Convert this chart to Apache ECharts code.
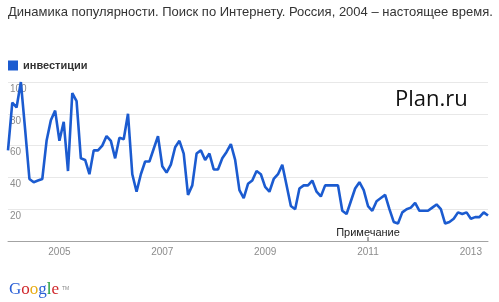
<!DOCTYPE html>
<html>
<head>
<meta charset="utf-8">
<script src="https://cdn.jsdelivr.net/npm/echarts@6/dist/echarts.min.js"></script>
<style>
html,body{margin:0;padding:0;background:#fff;}
#chart{width:499px;height:302px;}
</style>
</head>
<body>
<div id="chart"></div>
<script>
// ---- data (monthly, Jan 2004 .. May 2013) ----
var startYear = 2004;
var seriesName = 'инвестиции';
var values = [
  57, 87, 84, 100, 70, 39, 37, 38, 39, 63, 76, 82,      // 2004
  63, 75, 44, 93, 88, 52, 51, 42, 57, 57, 60, 66,       // 2005
  63, 52, 65, 64, 80, 42, 31, 42, 50, 50, 58, 66,       // 2006
  47, 43, 48, 59, 63, 55, 29, 35, 55, 57, 51, 55,       // 2007
  45, 45, 52, 56, 61, 51, 32, 27, 36, 38, 44, 42,       // 2008
  34, 31, 39, 42, 48, 35, 22, 20, 33, 35, 35, 38,       // 2009
  31, 28, 35, 35, 35, 35, 19, 17, 25, 33, 37, 32,       // 2010
  22, 19, 25, 27, 29, 20, 12, 11, 18, 20, 21, 24,       // 2011
  19, 19, 19, 21, 23, 20, 11, 12, 14, 18, 17, 18,       // 2012
  14, 15, 15, 18, 16                                    // 2013
];
var yTicks = [0, 20, 40, 60, 80, 100];
var xTickYears = ['2005', '2007', '2009', '2011', '2013'];
var noteLabel = 'Примечание';
var noteMonth = '2011-01';
var titleText = 'Динамика популярности. Поиск по Интернету. Россия, 2004 – настоящее время.';
var watermark = 'Plan.ru';

// categories built from the values length
var categories = [];
for (var i = 0; i < values.length; i++) {
  var y = startYear + Math.floor(i / 12);
  var m = (i % 12) + 1;
  categories.push(y + '-' + (m < 10 ? '0' + m : m));
}

var lineColor = '#1b5bd0';
var chart = echarts.init(document.getElementById('chart'), null, {renderer: 'canvas'});
chart.setOption({
  animation: false,
  backgroundColor: '#fff',
  title: {
    text: titleText,
    left: 8, top: 6, padding: 0,
    textStyle: {fontFamily: 'Liberation Sans, Arial, sans-serif', fontSize: 13, fontWeight: 'normal', color: '#333'}
  },
  legend: {
    data: [seriesName],
    left: 8, top: 60, padding: 0,
    icon: 'rect', itemWidth: 10, itemHeight: 10, itemGap: 10,
    textStyle: {fontFamily: 'Liberation Sans, Arial, sans-serif', fontSize: 11, fontWeight: 'bold', color: '#333', padding: [0,0,0,0]}
  },
  grid: {left: 8, right: 11, top: 82, bottom: 61, containLabel: false},
  xAxis: {
    type: 'category',
    data: categories,
    boundaryGap: false,
    axisLine: {show: true, lineStyle: {color: '#a3a3a3', width: 1}},
    axisTick: {show: false},
    splitLine: {show: false},
    axisLabel: {
      margin: 6,
      color: '#8c8c8c',
      fontFamily: 'Liberation Sans, Arial, sans-serif',
      fontSize: 10,
      interval: function (idx, val) {
        return val.slice(5) === '01' && xTickYears.indexOf(val.slice(0, 4)) >= 0;
      },
      formatter: function (val) { return val.slice(0, 4); }
    }
  },
  yAxis: {
    type: 'value',
    min: yTicks[0], max: yTicks[yTicks.length - 1], interval: yTicks[1] - yTicks[0],
    axisLine: {show: false},
    axisTick: {show: false},
    splitLine: {show: true, lineStyle: {color: '#e8e8e8', width: 1}},
    axisLabel: {
      inside: true, margin: 2,
      showMinLabel: false,
      verticalAlign: 'top',
      padding: [2, 0, 0, 0],
      color: '#8c8c8c',
      fontFamily: 'Liberation Sans, Arial, sans-serif',
      fontSize: 10
    }
  },
  series: [{
    name: seriesName,
    type: 'line',
    data: values,
    symbol: 'none',
    clip: false,
    lineStyle: {color: lineColor, width: 2.6},
    itemStyle: {color: lineColor},
    markPoint: {
      symbol: 'rect',
      symbolSize: [1, 4],
      symbolOffset: [0, -2],
      itemStyle: {color: '#555'},
      label: {
        show: true, position: 'top', distance: -1,
        formatter: noteLabel,
        color: '#222',
        fontFamily: 'Liberation Sans, Arial, sans-serif',
        fontSize: 11
      },
      data: [{coord: [noteMonth, 0]}]
    }
  }],
  graphic: [
    {
      type: 'text', left: 395, top: 89,
      style: {text: watermark, fill: '#111', font: '22px "Open Sans", "Noto Sans", sans-serif'}
    },
    {
      type: 'text', left: 9, top: 281,
      style: {
        text: '{b|G}{r|o}{y|o}{b|g}{g|l}{r|e}',
        font: '17px "Liberation Serif", serif',
        rich: {
          b: {fill: '#2a5fd6', font: '17px "Liberation Serif", serif'},
          r: {fill: '#d0262a', font: '17px "Liberation Serif", serif'},
          y: {fill: '#e8ad15', font: '17px "Liberation Serif", serif'},
          g: {fill: '#1e9a38', font: '17px "Liberation Serif", serif'}
        }
      }
    },
    {
      type: 'text', left: 62, top: 286,
      style: {text: 'TM', fill: '#888', font: '5px "Liberation Sans", sans-serif'}
    }
  ]
});
</script>
</body>
</html>
